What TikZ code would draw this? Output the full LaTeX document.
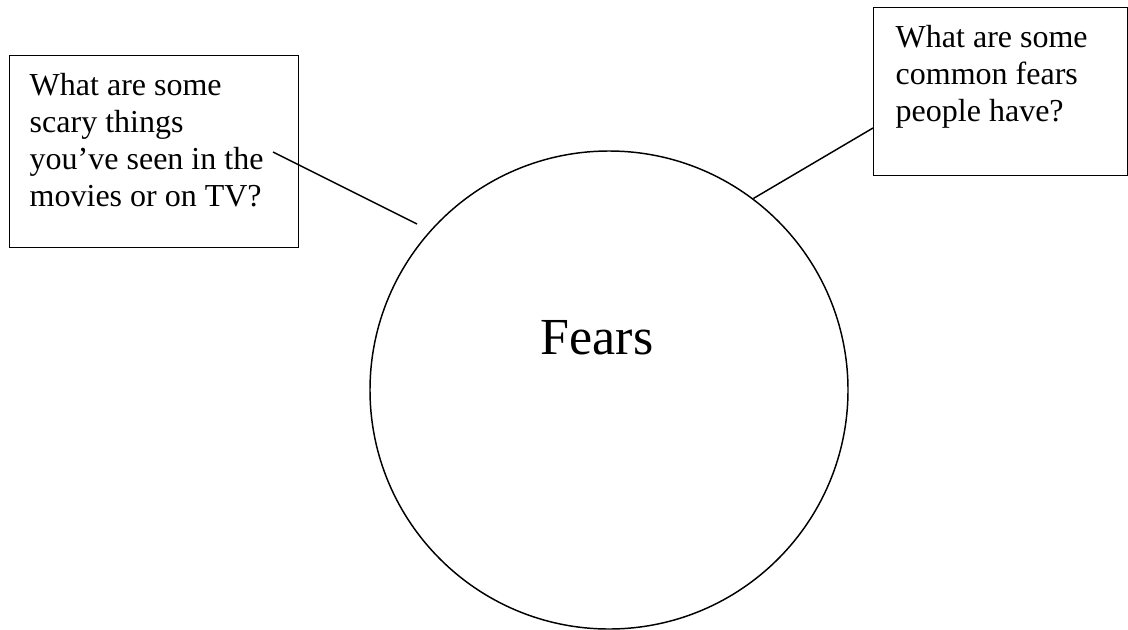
\documentclass[tikz,border=0pt]{standalone}
\usepackage{fontspec}
\setmainfont{Liberation Serif}
\begin{document}
\begin{tikzpicture}[x=0.75pt,y=-0.75pt,line width=1.1pt,
  qbox/.style={draw=black,inner sep=0pt,anchor=north west},
  qtext/.style={inner sep=0pt,anchor=north west,align=left,font=\fontsize{24}{27.75}\selectfont},
  hub/.style={draw=black,circle,inner sep=0pt,minimum size=358.5pt},
  link/.style={draw=black,line width=1.1pt}]
\useasboundingbox (0,0) rectangle (1128,629);
% circle
\node[hub] (fears) at (609,390) {};
\node[inner sep=0pt,anchor=base,font=\fontsize{39}{45}\selectfont] (fearslabel) at (597,354) {Fears};
% left box
\node[qbox,minimum width=216.75pt,minimum height=144pt] (lbox) at (9,55) {};
\node[qtext] (ltext) at (29,73) {What are some\\scary things\\you’ve seen in the\\movies or on TV?};
% right box
\node[qbox,minimum width=190.5pt,minimum height=126pt] (rbox) at (873,7) {};
\node[qtext] (rtext) at (895,25) {What are some\\common fears\\people have?};
% connectors
\coordinate (lstart) at (273,152);
\coordinate (lend) at (417,224);
\coordinate (rend) at (873,128);
\draw[link] (lstart) -- (lend);
\draw[link] (fears.53) -- (rend);
\end{tikzpicture}
\end{document}
